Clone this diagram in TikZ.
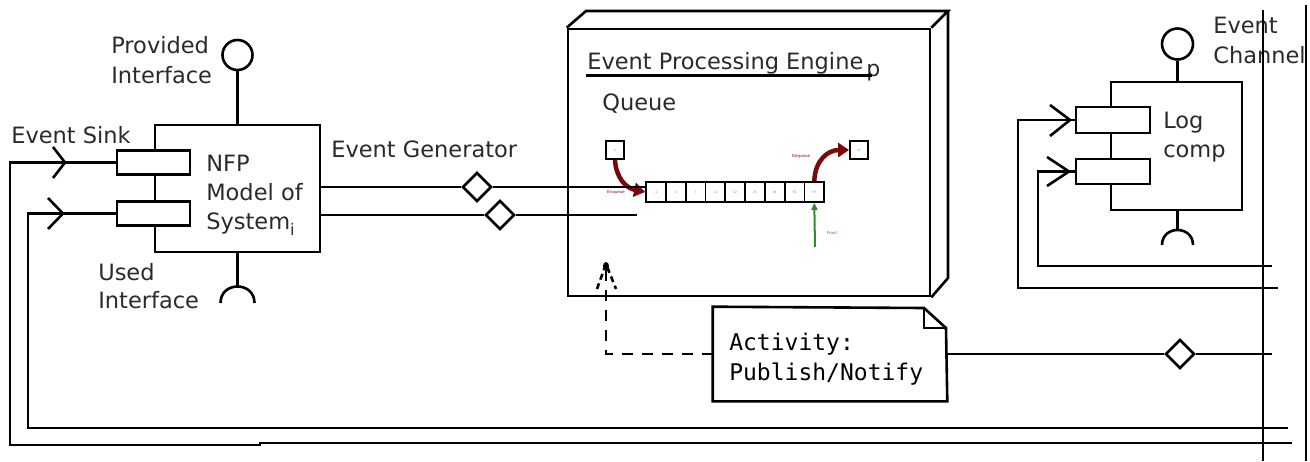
\documentclass[tikz,border=0pt]{standalone}
\usepackage{fontspec}
\setmainfont{DejaVu Sans}
\newfontfamily\monof{DejaVu Sans Mono}
\usetikzlibrary{shapes.geometric,arrows.meta}
\definecolor{txt}{HTML}{2A2A2A}
\definecolor{qred}{HTML}{7A0A0A}
\definecolor{qgreen}{HTML}{2E8B2E}
\begin{document}
\begin{tikzpicture}[x=1pt,y=-1pt,line width=2.6pt,
  lbl/.style={anchor=base west,inner sep=0pt,font=\fontsize{22.5}{22.5}\selectfont,text=txt},
  mono/.style={anchor=base west,inner sep=0pt,font=\monof\fontsize{23}{23}\selectfont,text=black},
  compbox/.style={draw,inner sep=0pt},
  portbox/.style={draw,fill=white,inner sep=0pt,minimum width=73pt,minimum height=24pt},
  lolli/.style={draw,circle,inner sep=0pt,minimum size=30pt},
  agg/.style={draw,fill=white,diamond,aspect=1,inner sep=0pt,minimum width=29pt,minimum height=29pt},
  cell/.style={draw,line width=1.8pt,inner sep=0pt,minimum width=19.8pt,minimum height=20pt,font=\fontsize{3}{3}\selectfont,text=gray},
  sq/.style={draw,line width=1.8pt,inner sep=0pt,minimum size=18pt,font=\fontsize{3}{3}\selectfont,text=gray},
  tinyl/.style={inner sep=0pt,font=\fontsize{4}{4}\selectfont},
  dep/.style={dash pattern=on 11pt off 9pt},
  qarrow/.style={qred,line width=4.5pt,-{Triangle[length=11pt,width=14pt]}}
]
\useasboundingbox (0,0) rectangle (1310,461);

% ---------- Event channel text (under the lines) ----------
\node[lbl] (evch1) at (1212,33) {Event};
\node[lbl] (evch2) at (1212,63) {Channel};

% ---------- NFP component ----------
\node[compbox,minimum width=165pt,minimum height=127pt] (nfp) at (237.5,188.5) {};
\node[portbox] (p1) at (153.5,162.5) {};
\node[portbox] (p2) at (153.5,213.5) {};
\node[lbl] (nfpt1) at (205,171) {NFP};
\node[lbl] (nfpt2) at (205,200) {Model of};
\node[lbl] (nfpt3) at (205,229) {System\raisebox{-6pt}{\fontsize{16}{16}\selectfont i}};
\node[lolli] (prov) at (237.5,55) {};
\draw (nfp.north) -- (prov.south);
\coordinate (usedtop) at (237.5,287);
\draw (nfp.south) -- (usedtop);
\draw (220.5,303) .. controls (220.5,281) and (254.5,281) .. (254.5,303);
\node[lbl] (provl1) at (110,53) {Provided};
\node[lbl] (provl2) at (110,83) {Interface};
\node[lbl] (usedl1) at (97,280) {Used};
\node[lbl] (usedl2) at (97,308) {Interface};
\node[lbl] (sinkl) at (10,143) {Event Sink};
\node[lbl] (genl) at (330,157) {Event Generator};

% sink chevrons
\draw (53,147) -- (65,162.5) -- (53,178);
\draw (48,198) -- (63,213.5) -- (48,229);

% ---------- Event Processing Engine ----------
\node[compbox,minimum width=362pt,minimum height=267pt] (eng) at (749,162.5) {};
\draw (eng.north west) -- (586,11) -- (948,11) -- (eng.north east);
\draw (948,11) -- (948,278) -- (eng.south east);
\node[lbl] (engl) at (586,69) {Event Processing Engine\hspace{3pt}\raisebox{-7pt}{\fontsize{22}{22}\selectfont p}};
\draw (586,75.5) -- (872,75.5);
\node[lbl] (queuel) at (601,110) {Queue};

% queue cells
\foreach \i/\t in {1/-1,2/4,3/7,4/11,5/32,6/25,7/46,8/56,9/97}{
  \node[cell] (q\i) at ({646+19.8*(\i-0.5)},192) {\t};
}
\node[sq] (sin) at (615,150) {5};
\node[sq] (sout) at (859,150) {97};
\draw[qarrow] (sin.south) .. controls (616,178) and (626,188) .. (q1.west);
\draw[qarrow] (q9.north) .. controls (815,160) and (828,150) .. (sout.west);
\draw[qgreen,line width=2pt,-{Triangle[length=7pt,width=6pt]}] (815,247) -- (q9.south);
\node[tinyl,text=qred] (enql) at (616,192) {Enqueue};
\node[tinyl,text=qred] (deql) at (801,156) {Dequeue};
\node[tinyl,text=qgreen] (frontl) at (832,233) {Front};

% event generator lines
\node[agg] (d1) at (477,187) {};
\node[agg] (d2) at (500,215) {};
\coordinate (g2end) at (637,215);
\draw (nfp.east |- d1) -- (d1.west);
\draw (d1.east) -- (q1.west |- d1);
\draw (nfp.east |- d2) -- (d2.west);
\draw (d2.east) -- (g2end);

% ---------- Note ----------
\node[inner sep=0pt,minimum width=232pt,minimum height=92pt] (note) at (830,354) {};
\draw (note.north west) -- (924,308) -- (946,328) -- (note.south east) -- (note.south west) -- cycle;
\draw (924,308) -- (924,328) -- (946,328);
\node[mono] (notet1) at (728,350) {Activity:};
\node[mono] (notet2) at (728,380) {Publish/Notify};

% dependency (dashed) to engine
\coordinate (deptip) at (606,264);
\draw[dep] (note.west) -| (deptip);
\draw[dash pattern=on 6pt off 4pt] (597,289) -- (deptip) -- (616,289);
\fill (606,266) ellipse (3 and 4);

% note to channel
\coordinate (nend) at (1272,354);
\node[agg] (d3) at (1180,354) {};
\draw (note.east) -- (d3.west);
\draw (d3.east) -- (nend);

% ---------- Log component ----------
\node[compbox,minimum width=131pt,minimum height=128pt] (log) at (1176.5,146) {};
\node[portbox,minimum width=74pt,minimum height=26pt] (lp1) at (1113,120) {};
\node[portbox,minimum width=74pt,minimum height=25pt] (lp2) at (1113,171.5) {};
\node[lbl] (logt1) at (1162,128) {Log};
\node[lbl] (logt2) at (1162,157) {comp};
\node[lolli,minimum size=31pt] (lprov) at (1177.5,44) {};
\draw (log.north -| lprov) -- (lprov.south);
\coordinate (lusedtop) at (1177.5,230);
\draw (log.south -| lusedtop) -- (lusedtop);
\draw (1162,245) .. controls (1162,225) and (1193,225) .. (1193,245);
\draw (1050,105) -- (1070,120) -- (1050,136);
\draw (1047,157) -- (1069,171.5) -- (1047,186);

% ---------- connectors to event channel ----------
\coordinate (s1end) at (1292,443);
\coordinate (s2end) at (1288,428);
\coordinate (l1end) at (1278,288);
\coordinate (l2end) at (1272,266);
\draw (p1.west) -| (10,445) -- (260,445) -- (260,443) -- (s1end);
\draw (p2.west) -| (28,428) -- (s2end);
\draw (lp1.west) -| (1018,288) -- (l1end);
\draw (lp2.west) -| (1038,266) -- (l2end);

% event channel lines
\coordinate (chA1) at (1263,10);
\coordinate (chA2) at (1263,461);
\coordinate (chB1) at (1306,5);
\coordinate (chB2) at (1306,461);
\draw (chA1) -- (chA2);
\draw (chB1) -- (chB2);
\end{tikzpicture}
\end{document}
